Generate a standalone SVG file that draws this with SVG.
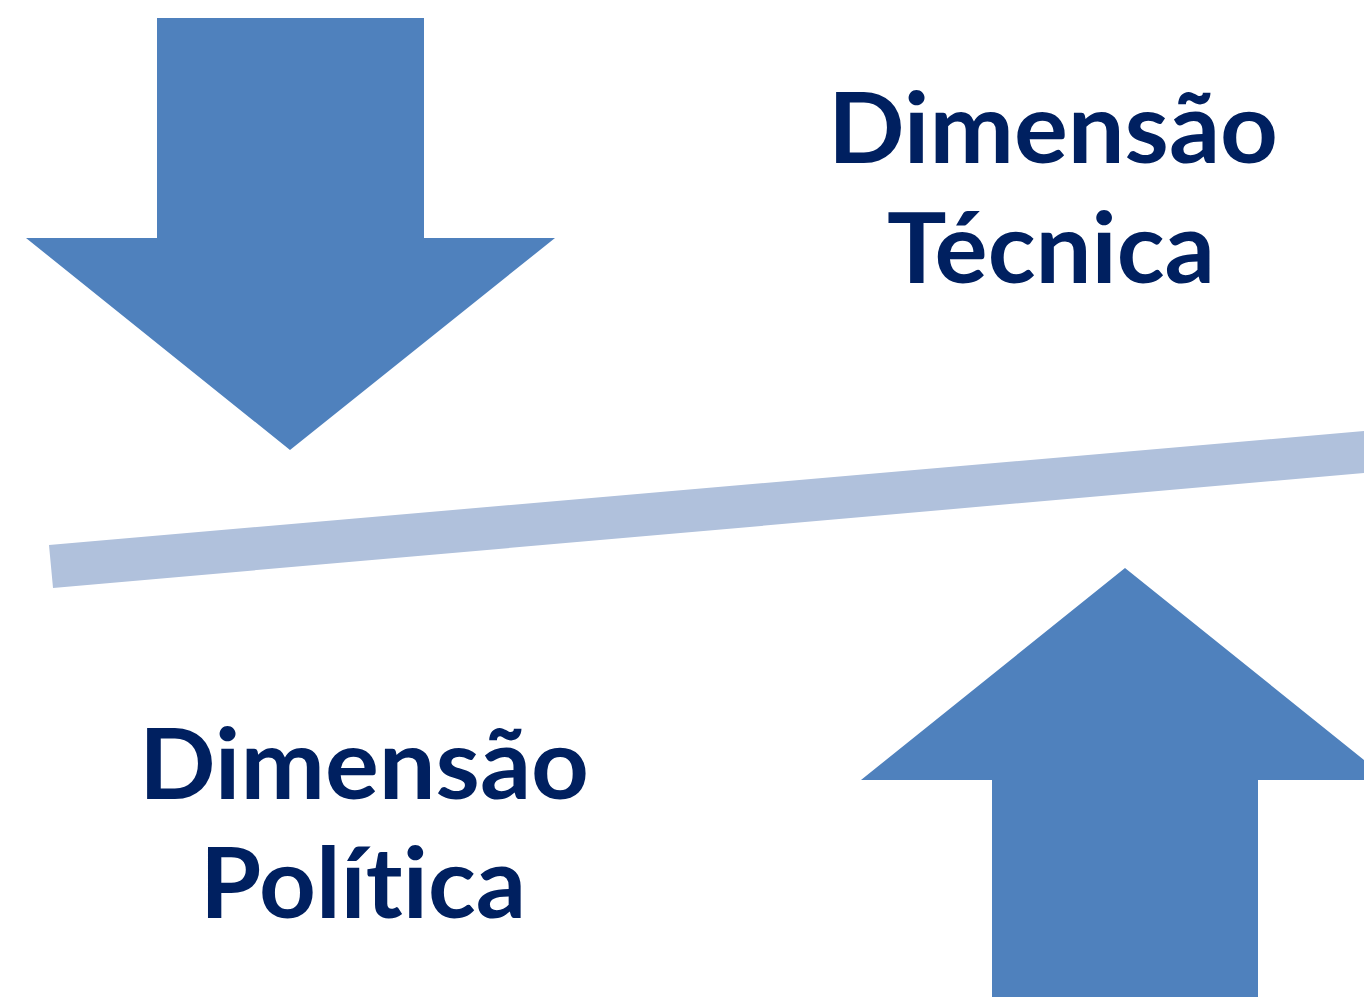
<svg xmlns="http://www.w3.org/2000/svg" width="1364" height="997" viewBox="0 0 1364 997">
<style>
.arrow{fill:#4F81BD}
.bar{fill:#B0C1DC}
.t{font-family:Lato,"Open Sans","Liberation Sans",sans-serif;font-weight:bold;font-size:98px;fill:#002060;text-anchor:middle;font-variant-ligatures:none;font-feature-settings:"liga" 0,"clig" 0}
</style>
<rect width="1364" height="997" fill="#FFFFFF"/>
<g id="arrow-down"><polygon class="arrow" points="157,18 424,18 424,238 555,238 290,450 26,238 157,238"/></g>
<g id="bar"><polygon class="bar" points="49,545 1364,431 1364,473 53,588"/></g>
<g id="arrow-up"><polygon class="arrow" points="1125,568 1389,780 1258,780 1258,997 992,997 992,780 861,780"/></g>
<g id="label-tecnica">
<text class="t" x="1053" y="163" textLength="450" lengthAdjust="spacingAndGlyphs">Dimensão</text>
<text class="t" x="1051" y="283" textLength="328" lengthAdjust="spacingAndGlyphs">Técnica</text>
</g>
<g id="label-politica">
<text class="t" x="364" y="799" textLength="450" lengthAdjust="spacingAndGlyphs">Dimensão</text>
<text class="t" x="363" y="918" textLength="326" lengthAdjust="spacingAndGlyphs">Política</text>
</g>
</svg>
